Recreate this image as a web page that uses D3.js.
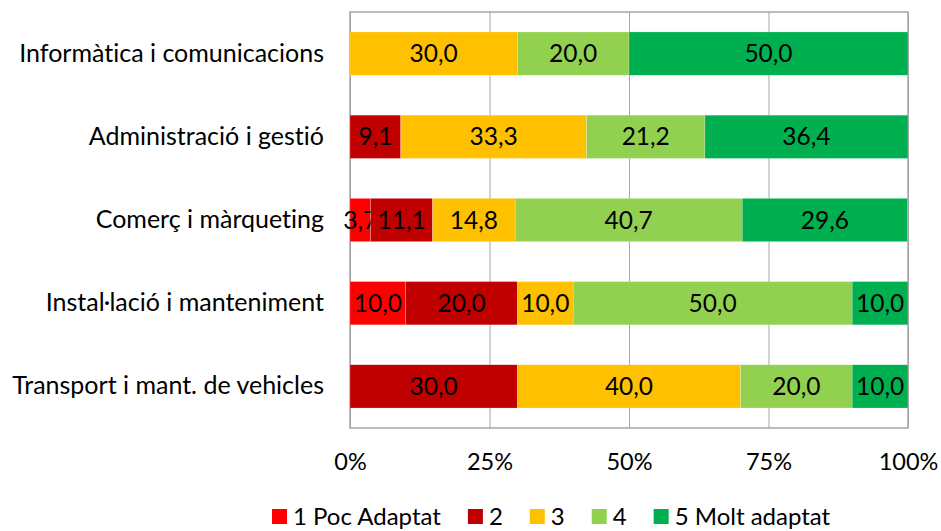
<!DOCTYPE html>
<html>
<head>
<meta charset="utf-8">
<script src="https://cdn.jsdelivr.net/npm/d3@7"></script>
<style>
  body { margin: 0; background: #fff; }
  svg text { font-family: Lato, "Noto Sans", sans-serif; fill: #000; font-variant-ligatures: none; }
</style>
</head>
<body>
<svg id="chart" width="941" height="531"></svg>
<script>
const categories = ["Informàtica i comunicacions", "Administració i gestió", "Comerç i màrqueting", "Instal·lació i manteniment", "Transport i mant. de vehicles"];
const seriesNames = ["1 Poc Adaptat", "2", "3", "4", "5 Molt adaptat"];
const seriesColors = ["#FF0000", "#C00000", "#FFC000", "#92D050", "#00B050"];
const s1 = [0, 0, 3.7, 10, 0];
const s2 = [0, 9.1, 11.1, 20, 30];
const s3 = [30, 33.3, 14.8, 10, 40];
const s4 = [20, 21.2, 40.7, 50, 20];
const s5 = [50, 36.4, 29.6, 10, 10];
const xTicks = [0, 25, 50, 75, 100];

const svg = d3.select("svg#chart");
const margin = {top: 12, left: 350, right: 33, bottom: 103};
const width = +svg.attr("width");
const height = +svg.attr("height");
const chartWidth = width - margin.left - margin.right;
const chartHeight = height - margin.top - margin.bottom;

const table = categories.map((c, i) => ({cat: c, s0: s1[i], s1: s2[i], s2: s3[i], s3: s4[i], s4: s5[i]}));
const keys = ["s0", "s1", "s2", "s3", "s4"];
const stacked = d3.stack().keys(keys)(table);

const x = d3.scaleLinear().domain([0, 100]).range([0, chartWidth]);
const y = d3.scaleBand().domain(categories).range([0, chartHeight]).paddingInner(0.48).paddingOuter(0.24);

const g = svg.append("g").attr("transform", `translate(${margin.left},${margin.top})`);

// gridlines
g.append("g").attr("class", "grid")
  .call(d3.axisBottom(x).tickValues(xTicks).tickSize(chartHeight).tickFormat(""))
  .call(a => a.select(".domain").remove())
  .selectAll("line").attr("stroke", "#A6A6A6").attr("stroke-width", 1);

// plot border
g.append("rect").attr("x", 0).attr("y", 0).attr("width", chartWidth).attr("height", chartHeight)
  .attr("fill", "none").attr("stroke", "#A6A6A6").attr("stroke-width", 1.5);

// bars
const layers = g.selectAll("g.layer").data(stacked).join("g").attr("class", "layer")
  .attr("fill", (d, i) => seriesColors[i]);
layers.selectAll("rect").data(d => d.filter(p => p[1] - p[0] > 0)).join("rect")
  .attr("x", d => x(d[0]))
  .attr("y", d => y(d.data.cat))
  .attr("width", d => x(d[1]) - x(d[0]))
  .attr("height", y.bandwidth())
  .attr("stroke", "#fff").attr("stroke-opacity", 0.4).attr("stroke-width", 0.5);

// value labels
const fmt = v => d3.format(".1f")(v).replace(".", ",");
layers.selectAll("text").data(d => d.filter(p => p[1] - p[0] > 0)).join("text")
  .attr("x", d => x((d[0] + d[1]) / 2))
  .attr("y", d => y(d.data.cat) + y.bandwidth() / 2)
  .attr("dy", "0.35em")
  .attr("text-anchor", "middle")
  .attr("font-size", 24.5)
  .style("fill", "#000")
  .text(d => fmt(d[1] - d[0]));

// category labels
const yAxis = g.append("g").call(d3.axisLeft(y).tickSize(0).tickPadding(26));
yAxis.select(".domain").remove();
yAxis.selectAll("text").attr("font-size", 25).style("font-family", "Lato, 'Noto Sans', sans-serif");

// x axis labels
const xAxis = g.append("g").attr("transform", `translate(0,${chartHeight})`)
  .call(d3.axisBottom(x).tickValues(xTicks).tickSize(0).tickPadding(25).tickFormat(d => d + "%"));
xAxis.select(".domain").remove();
xAxis.selectAll("text").attr("font-size", 23.5).style("font-family", "Lato, 'Noto Sans', sans-serif");

// legend
const legend = svg.append("g").attr("transform", `translate(272,${height - 14})`);
let lx = 0;
seriesNames.forEach((name, i) => {
  const item = legend.append("g").attr("transform", `translate(${lx},0)`);
  item.append("rect").attr("x", 0).attr("y", -8).attr("width", 15).attr("height", 15).attr("fill", seriesColors[i]);
  const t = item.append("text").attr("x", 21).attr("y", 0).attr("dy", "0.35em")
    .attr("font-size", 24).text(name);
  lx += 21 + t.node().getComputedTextLength() + 27;
});
</script>
</body>
</html>
